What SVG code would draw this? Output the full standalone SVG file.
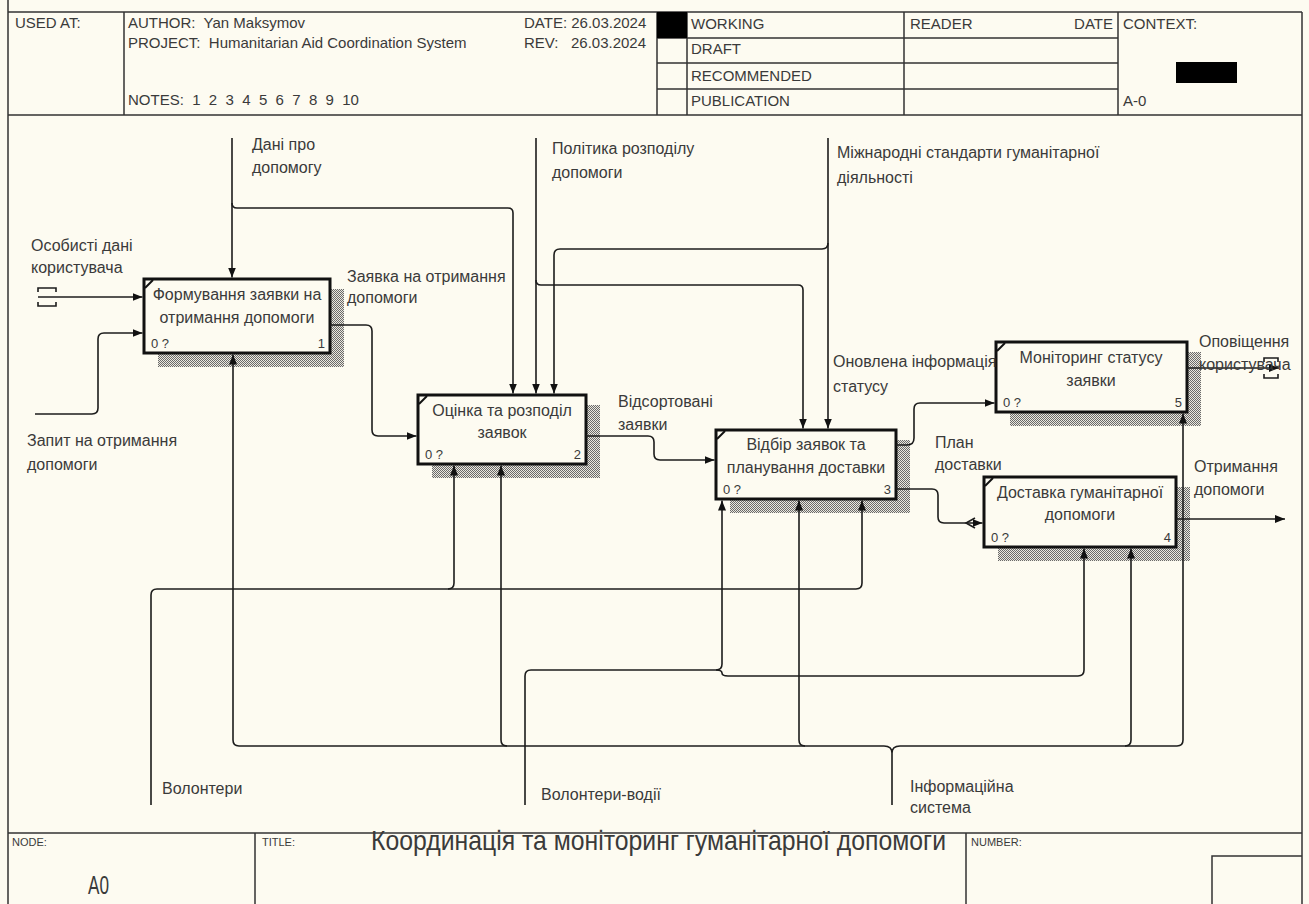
<svg xmlns="http://www.w3.org/2000/svg" width="1309" height="904" viewBox="0 0 1309 904">
  <defs>
    <pattern id="hatch" width="2" height="2" patternUnits="userSpaceOnUse">
      <rect width="2" height="2" fill="#ebe8df"/>
      <rect x="0" y="0" width="1" height="1" fill="#6a6a6a"/>
      <rect x="1" y="1" width="1" height="1" fill="#6a6a6a"/>
    </pattern>
    <marker id="ah" markerWidth="10" markerHeight="8" refX="10" refY="4" orient="auto" markerUnits="userSpaceOnUse">
      <path d="M0,0 L10,4 L0,8 z" fill="#111"/>
    </marker>
    <style>
      .ln { fill: none; stroke: #1c1c1c; stroke-width: 1.6; }
      .arr { marker-end: url(#ah); }
      .frame { fill: none; stroke: #333; stroke-width: 1.5; }
      .bx { fill: #fdfbf1; stroke: #111; stroke-width: 3; }
      .sh { fill: url(#hatch); }
      .cm { stroke: #111; stroke-width: 2; }
      .t { font-family: "Liberation Sans", Arial, sans-serif; font-size: 16px; fill: #3a3a3a; }
      .c { text-anchor: middle; }
      .n { font-family: "Liberation Sans", Arial, sans-serif; font-size: 13px; fill: #3a3a3a; }
      .e { text-anchor: end; }
      .h { font-family: "Liberation Sans", Arial, sans-serif; font-size: 15px; fill: #3a3a3a; white-space: pre; }
      .f { font-family: "Liberation Sans", Arial, sans-serif; font-size: 11px; fill: #3a3a3a; }
    </style>
  </defs>

  <rect width="1309" height="904" fill="#fdfbf1"/>

  <!-- form frame, header and footer -->
  <g id="form" xml:space="preserve">
    <path class="frame" d="M8 0 V904 M1302 12 V904 M8 12 H1302 M8 115 H1302 M8 833 H1302"/>
    <path class="frame" d="M124 12 V115 M657 12 V115 M687 12 V115 M904 12 V115 M1118 12 V115"/>
    <path class="frame" d="M657 38 H1118 M657 63 H1118 M657 89 H1118"/>
    <rect x="657" y="12" width="30" height="26" fill="#000"/>
    <rect x="1176" y="62" width="61" height="21" fill="#000"/>
    <text class="h" x="15" y="28">USED AT:</text>
    <text class="h" x="128" y="28">AUTHOR:  Yan Maksymov</text>
    <text class="h" x="128" y="48">PROJECT:  Humanitarian Aid Coordination System</text>
    <text class="h" x="128" y="105">NOTES:  1  2  3  4  5  6  7  8  9  10</text>
    <text class="h" x="524" y="28">DATE: 26.03.2024</text>
    <text class="h" x="524" y="48">REV:   26.03.2024</text>
    <text class="h" x="691" y="29">WORKING</text>
    <text class="h" x="691" y="54">DRAFT</text>
    <text class="h" x="691" y="81">RECOMMENDED</text>
    <text class="h" x="691" y="106">PUBLICATION</text>
    <text class="h" x="910" y="29">READER</text>
    <text class="h e" x="1113" y="29">DATE</text>
    <text class="h" x="1123" y="29">CONTEXT:</text>
    <text class="h" x="1123" y="106">A-0</text>

    <path class="frame" d="M255 833 V904 M966 833 V904 M1212 904 V856 H1302"/>
    <text class="f" x="12" y="846">NODE:</text>
    <text class="f" x="262" y="846">TITLE:</text>
    <text class="f" x="971" y="846">NUMBER:</text>
    <text class="t" transform="translate(371 850) scale(1 1.15)" style="font-size:24px" textLength="575" lengthAdjust="spacingAndGlyphs">Координація та моніторинг  гуманітарної допомоги</text>
    <text class="t" transform="translate(88 894) scale(1 1.3)" style="font-size:20px" textLength="21" lengthAdjust="spacingAndGlyphs">A0</text>
  </g>

  <!-- activity boxes -->
  <g id="node-1">
    <path class="sh" d="M330 289 H344 V367 H158 V353 H330 Z"/>
    <rect class="bx" x="144" y="279" width="186" height="74"/>
    <line class="cm" x1="145" y1="288" x2="153" y2="280"/>
    <text class="t c" x="237" y="300">Формування заявки на</text>
    <text class="t c" x="237" y="323">отримання допомоги</text>
    <text class="n" x="151" y="348">0 ?</text>
    <text class="n e" x="325" y="348">1</text>
  </g>

  <g id="node-2">
    <path class="sh" d="M586 405 H600 V478 H432 V464 H586 Z"/>
    <rect class="bx" x="418" y="395" width="168" height="69"/>
    <line class="cm" x1="419" y1="404" x2="427" y2="396"/>
    <text class="t c" x="502" y="416">Оцінка та розподіл</text>
    <text class="t c" x="502" y="438">заявок</text>
    <text class="n" x="425" y="459">0 ?</text>
    <text class="n e" x="581" y="459">2</text>
  </g>

  <g id="node-3">
    <path class="sh" d="M896 440 H910 V513 H730 V499 H896 Z"/>
    <rect class="bx" x="716" y="430" width="180" height="69"/>
    <line class="cm" x1="717" y1="439" x2="725" y2="431"/>
    <text class="t c" x="806" y="450">Відбір заявок та</text>
    <text class="t c" x="806" y="473">планування доставки</text>
    <text class="n" x="723" y="494">0 ?</text>
    <text class="n e" x="891" y="494">3</text>
  </g>

  <g id="node-5">
    <path class="sh" d="M1187 352 H1201 V426 H1010 V412 H1187 Z"/>
    <rect class="bx" x="996" y="342" width="191" height="70"/>
    <line class="cm" x1="997" y1="351" x2="1005" y2="343"/>
    <text class="t c" x="1091" y="363">Моніторинг статусу</text>
    <text class="t c" x="1091" y="386">заявки</text>
    <text class="n" x="1003" y="407">0 ?</text>
    <text class="n e" x="1182" y="407">5</text>
  </g>

  <g id="node-4">
    <path class="sh" d="M1176 487 H1190 V561 H998 V547 H1176 Z"/>
    <rect class="bx" x="984" y="477" width="192" height="70"/>
    <line class="cm" x1="985" y1="486" x2="993" y2="478"/>
    <text class="t c" x="1080" y="498">Доставка гуманітарної</text>
    <text class="t c" x="1080" y="520">допомоги</text>
    <text class="n" x="991" y="542">0 ?</text>
    <text class="n e" x="1171" y="542">4</text>
  </g>

  <!-- arrows -->
  <g id="connectors">
    <!-- controls -->
    <path class="ln arr" d="M232 138 V277.5"/>
    <path class="ln arr" d="M232 203 Q232 208 237 208 H508 Q513 208 513 213 V393.5"/>
    <path class="ln arr" d="M536 138 V393.5"/>
    <path class="ln arr" d="M536 280 Q536 285 541 285 H798 Q803 285 803 290 V428.5"/>
    <path class="ln arr" d="M828 138 V428.5"/>
    <path class="ln arr" d="M828 243 Q828 249 822 249 H560 Q554 249 554 255 V393.5"/>

    <!-- inputs and outputs -->
    <path class="ln" d="M38 292 V288 H56 V292 M38 302 V306 H56 V302"/>
    <path class="ln arr" d="M38 297 H142.5"/>
    <path class="ln arr" d="M35 414 H92 Q98 414 98 408 V339 Q98 333 104 333 H142.5"/>
    <path class="ln arr" d="M330 325 H366 Q372 325 372 331 V430 Q372 436 378 436 H416.5"/>
    <path class="ln arr" d="M586 436 H648 Q654 436 654 442 V454 Q654 460 660 460 H714.5"/>
    <path class="ln arr" d="M896 445 H907 Q914 445 914 438 V409 Q914 403 920 403 H994.5"/>
    <path class="ln arr" d="M896 489 H932 Q938 489 938 495 V517 Q938 523 944 523 H982.5"/>
    <path class="ln" d="M975 518 L966 523 L975 528"/>
    <path class="ln arr" d="M1187 368 H1279"/>
    <path class="ln" d="M1264 362 V358 H1278 V362 M1264 374 V378 H1278 V374"/>
    <path class="ln arr" d="M1176 519 H1285"/>

    <!-- mechanisms -->
    <path class="ln arr" d="M151 805 V595 Q151 589 157 589 H856 Q862 589 862 583 V500.5"/>
    <path class="ln arr" d="M448 589 Q454 589 454 583 V465.5"/>
    <path class="ln" d="M892 805 V753 M884 746 Q892 746 892 753 Q892 746 900 746"/>
    <path class="ln arr" d="M884 746 H239 Q233 746 233 740 V354.5"/>
    <path class="ln arr" d="M900 746 H1177 Q1183 746 1183 740 V413.5"/>
    <path class="ln arr" d="M507 746 Q501 746 501 740 V465.5"/>
    <path class="ln arr" d="M805 746 Q799 746 799 740 V500.5"/>
    <path class="ln arr" d="M1125 746 Q1131 746 1131 740 V548.5"/>
    <path class="ln arr" d="M525 805 V676 Q525 670 531 670 H716 Q722 670 722 664 V500.5"/>
    <path class="ln arr" d="M716 670 Q722 670 722 673 Q722 676 728 676 H1078 Q1084 676 1084 670 V548.5"/>
  </g>

  <!-- arrow labels -->
  <g id="labels">
    <text class="t" x="252" y="150">Дані про</text>
    <text class="t" x="252" y="173">допомогу</text>
    <text class="t" x="552" y="154">Політика розподілу</text>
    <text class="t" x="552" y="178">допомоги</text>
    <text class="t" x="837" y="158">Міжнародні стандарти гуманітарної</text>
    <text class="t" x="837" y="183">діяльності</text>
    <text class="t" x="31" y="251">Особисті дані</text>
    <text class="t" x="31" y="273">користувача</text>
    <text class="t" x="27" y="446">Запит на отримання</text>
    <text class="t" x="27" y="470">допомоги</text>
    <text class="t" x="347" y="282">Заявка на отримання</text>
    <text class="t" x="347" y="303">допомоги</text>
    <text class="t" x="618" y="407">Відсортовані</text>
    <text class="t" x="618" y="430">заявки</text>
    <text class="t" x="833" y="367">Оновлена інформація</text>
    <text class="t" x="833" y="392">статусу</text>
    <text class="t" x="935" y="448">План</text>
    <text class="t" x="935" y="470">доставки</text>
    <text class="t" x="1199" y="347">Оповіщення</text>
    <text class="t" x="1199" y="370">користувача</text>
    <text class="t" x="1194" y="472">Отримання</text>
    <text class="t" x="1194" y="495">допомоги</text>
    <text class="t" x="162" y="794">Волонтери</text>
    <text class="t" x="541" y="800">Волонтери-водії</text>
    <text class="t" x="910" y="792">Інформаційна</text>
    <text class="t" x="910" y="813">система</text>
  </g>
</svg>
